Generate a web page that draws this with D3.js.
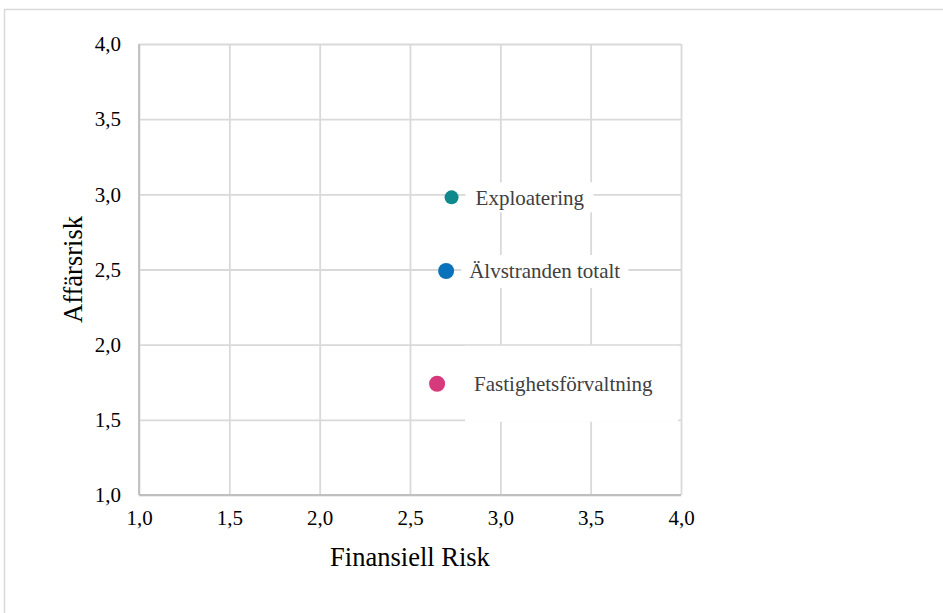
<!DOCTYPE html>
<html>
<head>
<meta charset="utf-8">
<script src="https://cdn.jsdelivr.net/npm/d3@7"></script>
<style>
  html, body { margin: 0; padding: 0; background: #fff; }
  svg { display: block; }
</style>
</head>
<body>
<script>
// Risk profile per business area
const names = ["Exploatering", "Älvstranden totalt", "Fastighetsförvaltning"];
const finansiellRisk = [2.73, 2.70, 2.65];
const affarsRisk = [2.98, 2.49, 1.74];
const colors = ["#0E8A8C", "#0A72BA", "#D63A7C"];
const radii = [7, 8, 8];
const tickValues = [1.0, 1.5, 2.0, 2.5, 3.0, 3.5, 4.0];

// Label placement: offset of text from marker and white box padding
const labelLayout = [
  { dx: 24, padL: 10, padR: 9,  boxTop: -15, boxBottom: 15 },
  { dx: 23, padL: 8,  padR: 8,  boxTop: -16, boxBottom: 17 },
  { dx: 37, padL: 9,  padR: 25, boxTop: -38, boxBottom: 38 }
];

const W = 943, H = 613;
const plot = { left: 139, right: 681, top: 44, bottom: 495 };
const serif = "'Liberation Serif', 'Times New Roman', Times, serif";

const svg = d3.select("body").append("svg")
  .attr("width", W).attr("height", H);

// outer chart frame
svg.append("rect")
  .attr("x", 4.5).attr("y", 9.5)
  .attr("width", 1200).attr("height", 1200)
  .attr("fill", "none").attr("stroke", "#d9d9d9").attr("stroke-width", 1.5);

const x = d3.scaleLinear().domain([1, 4]).range([plot.left, plot.right]);
const y = d3.scaleLinear().domain([1, 4]).range([plot.bottom, plot.top]);
const fmt = v => d3.format(".1f")(v).replace(".", ",");

// vertical gridlines
svg.append("g")
  .attr("transform", `translate(0,${plot.bottom})`)
  .call(d3.axisBottom(x).tickValues(tickValues).tickSize(-(plot.bottom - plot.top)).tickFormat(""))
  .call(g => g.select(".domain").remove())
  .call(g => g.selectAll("line").attr("stroke", "#d9d9d9").attr("stroke-width", 1.8));

// horizontal gridlines
svg.append("g")
  .attr("transform", `translate(${plot.left},0)`)
  .call(d3.axisLeft(y).tickValues(tickValues).tickSize(-(plot.right - plot.left)).tickFormat(""))
  .call(g => g.select(".domain").remove())
  .call(g => g.selectAll("line").attr("stroke", "#d9d9d9").attr("stroke-width", 1.8));

// axis lines
svg.append("line")
  .attr("x1", plot.left).attr("x2", plot.left)
  .attr("y1", plot.top).attr("y2", plot.bottom)
  .attr("stroke", "#bfbfbf").attr("stroke-width", 1.8);
svg.append("line")
  .attr("x1", plot.left).attr("x2", plot.right)
  .attr("y1", plot.bottom).attr("y2", plot.bottom)
  .attr("stroke", "#bfbfbf").attr("stroke-width", 1.8);

// tick labels
const xAxis = svg.append("g")
  .attr("transform", `translate(0,${plot.bottom})`)
  .call(d3.axisBottom(x).tickValues(tickValues).tickSize(0).tickPadding(15).tickFormat(fmt));
xAxis.select(".domain").remove();
xAxis.selectAll("text")
  .attr("font-family", serif)
  .attr("font-size", 21).attr("fill", "#000");

const yAxis = svg.append("g")
  .attr("transform", `translate(${plot.left},0)`)
  .call(d3.axisLeft(y).tickValues(tickValues).tickSize(0).tickPadding(18).tickFormat(fmt));
yAxis.select(".domain").remove();
yAxis.selectAll("text")
  .attr("font-family", serif)
  .attr("font-size", 21).attr("fill", "#000");

// axis titles
svg.append("text")
  .attr("x", (plot.left + plot.right) / 2).attr("y", 566)
  .attr("text-anchor", "middle")
  .attr("font-family", serif)
  .attr("font-size", 26.5).attr("fill", "#000")
  .text("Finansiell Risk");

svg.append("text")
  .attr("transform", `translate(82,${(plot.top + plot.bottom) / 2}) rotate(-90)`)
  .attr("text-anchor", "middle")
  .attr("font-family", serif)
  .attr("font-size", 26.5).attr("fill", "#000")
  .text("Affärsrisk");

const data = names.map((n, i) => ({
  name: n, fx: finansiellRisk[i], ay: affarsRisk[i],
  color: colors[i], r: radii[i], lay: labelLayout[i]
}));

// data labels with white backgrounds
const labels = svg.append("g").selectAll("g").data(data).join("g")
  .attr("transform", d => `translate(${x(d.fx) + d.lay.dx},${y(d.ay)})`);

labels.append("rect").attr("fill", "#fff");
labels.append("text")
  .attr("dy", "0.35em")
  .attr("font-family", serif)
  .attr("font-size", 21).attr("fill", "#404040")
  .text(d => d.name);

labels.each(function(d) {
  const g = d3.select(this);
  const bb = g.select("text").node().getBBox();
  g.select("rect")
    .attr("x", -d.lay.padL)
    .attr("y", d.lay.boxTop)
    .attr("width", bb.width + d.lay.padL + d.lay.padR)
    .attr("height", d.lay.boxBottom - d.lay.boxTop);
});

// markers
svg.append("g").selectAll("circle").data(data).join("circle")
  .attr("cx", d => x(d.fx))
  .attr("cy", d => y(d.ay))
  .attr("r", d => d.r)
  .attr("fill", d => d.color);
</script>
</body>
</html>
